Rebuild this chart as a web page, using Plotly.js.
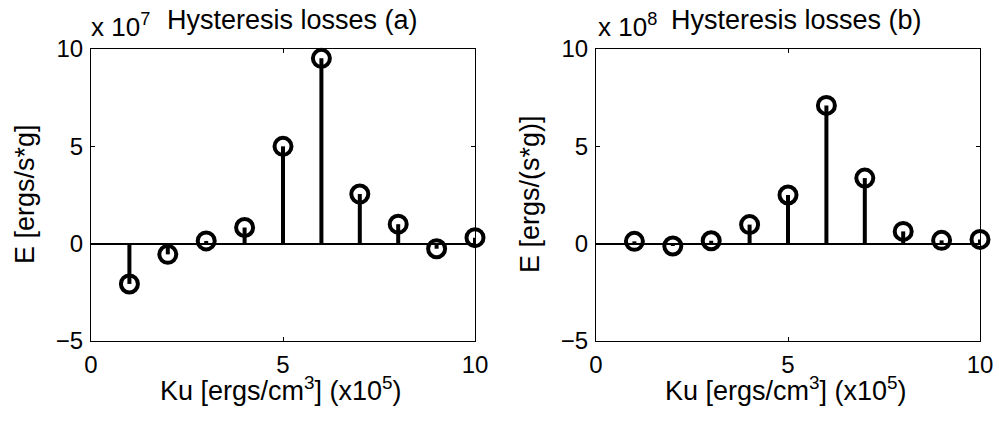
<!DOCTYPE html>
<html>
<head>
<meta charset="utf-8">
<script src="https://cdn.plot.ly/plotly-3.0.1.min.js"></script>
<style>
  html, body { margin: 0; padding: 0; background: #fff; }
  #chart { width: 999px; height: 428px; }
</style>
</head>
<body>
<div id="chart"></div>
<script>
// Anisotropy constant Ku (units of 1e5 ergs/cm^3)
const ku = [1, 2, 3, 4, 5, 6, 7, 8, 9, 10];
// Hysteresis losses, panel (a), in units of 1e7 ergs/(s*g)
const lossA = [-2.07, -0.55, 0.14, 0.83, 5.0, 9.52, 2.55, 1.0, -0.26, 0.31];
// Hysteresis losses, panel (b), in units of 1e8 ergs/(s*g)
const lossB = [0.12, -0.12, 0.15, 0.98, 2.5, 7.1, 3.37, 0.63, 0.17, 0.22];

const xTicks = [0, 5, 10];
const yTicks = [-5, 0, 5, 10];

const W = 999, H = 428;
const px = x => x / W;
const py = y => 1 - y / H;
const FONT = 'Liberation Sans, Arial, sans-serif';

// stem lines: vertical segments from the baseline to each value
function stemTrace(xs, ys, xa, ya) {
  const sx = [], sy = [];
  xs.forEach((x, i) => { sx.push(x, x, null); sy.push(0, ys[i], null); });
  return {
    x: sx, y: sy, xaxis: xa, yaxis: ya, type: 'scatter', mode: 'lines',
    line: { color: '#000', width: 4 }, hoverinfo: 'skip', showlegend: false,
    cliponaxis: false
  };
}
function headTrace(xs, ys, xa, ya) {
  return {
    x: xs, y: ys, xaxis: xa, yaxis: ya, type: 'scatter', mode: 'markers',
    marker: { symbol: 'circle-open', size: 17, color: '#000', line: { width: 4, color: '#000' } },
    showlegend: false, cliponaxis: false
  };
}

const data = [
  stemTrace(ku, lossA, 'x', 'y'), headTrace(ku, lossA, 'x', 'y'),
  stemTrace(ku, lossB, 'x2', 'y2'), headTrace(ku, lossB, 'x2', 'y2')
];

function xAxis(domain, anchor) {
  return {
    domain: domain, anchor: anchor, range: [0, 10], tickmode: 'array', tickvals: xTicks,
    ticks: 'inside', ticklen: 4, tickwidth: 1, tickcolor: '#000',
    showline: true, linecolor: '#000', linewidth: 1, mirror: 'allticks',
    showgrid: false, zeroline: false, ticklabelstandoff: 2,
    tickfont: { family: FONT, size: 24, color: '#000' }, fixedrange: true
  };
}
function yAxis(domain, anchor) {
  return {
    domain: domain, anchor: anchor, range: [-5, 10], tickmode: 'array', tickvals: yTicks,
    ticks: 'inside', ticklen: 4, tickwidth: 1, tickcolor: '#000',
    showline: true, linecolor: '#000', linewidth: 1, mirror: 'allticks',
    showgrid: false, zeroline: true, zerolinecolor: '#000', zerolinewidth: 2,
    ticklabelstandoff: 2,
    tickfont: { family: FONT, size: 24, color: '#000' }, fixedrange: true
  };
}

const yDom = [py(341), py(49)];

function ann(text, x, y, opts) {
  return Object.assign({
    text: text, x: x, y: y, xref: 'paper', yref: 'paper', showarrow: false,
    xanchor: 'center', yanchor: 'middle',
    font: { family: FONT, size: 27, color: '#000' }
  }, opts || {});
}

const small = { family: FONT, size: 26, color: '#000' };

const annotations = [
  ann('x 10<sup>7</sup>', px(89), py(25), { xanchor: 'left', font: small }),
  ann('Hysteresis losses (a)', px(292), py(20)),
  ann('E [ergs/s*g]', px(25), py(194), { textangle: -90 }),
  ann('Ku [ergs/cm<sup>3</sup>] (x10<sup>5</sup>)', px(281), py(389)),

  ann('x 10<sup>8</sup>', px(596), py(25), { xanchor: 'left', font: small }),
  ann('Hysteresis losses (b)', px(796), py(20)),
  ann('E [ergs/(s*g)]', px(530), py(194), { textangle: -90 }),
  ann('Ku [ergs/cm<sup>3</sup>] (x10<sup>5</sup>)', px(786), py(389))
];

const layout = {
  width: W, height: H,
  margin: { l: 0, r: 0, t: 0, b: 0 },
  paper_bgcolor: '#fff', plot_bgcolor: '#fff',
  showlegend: false,
  xaxis: xAxis([px(91), px(475)], 'y'),
  yaxis: yAxis(yDom, 'x'),
  xaxis2: xAxis([px(596), px(980)], 'y2'),
  yaxis2: yAxis(yDom, 'x2'),
  annotations: annotations
};

Plotly.newPlot('chart', data, layout, { displayModeBar: false, staticPlot: true });
</script>
</body>
</html>
